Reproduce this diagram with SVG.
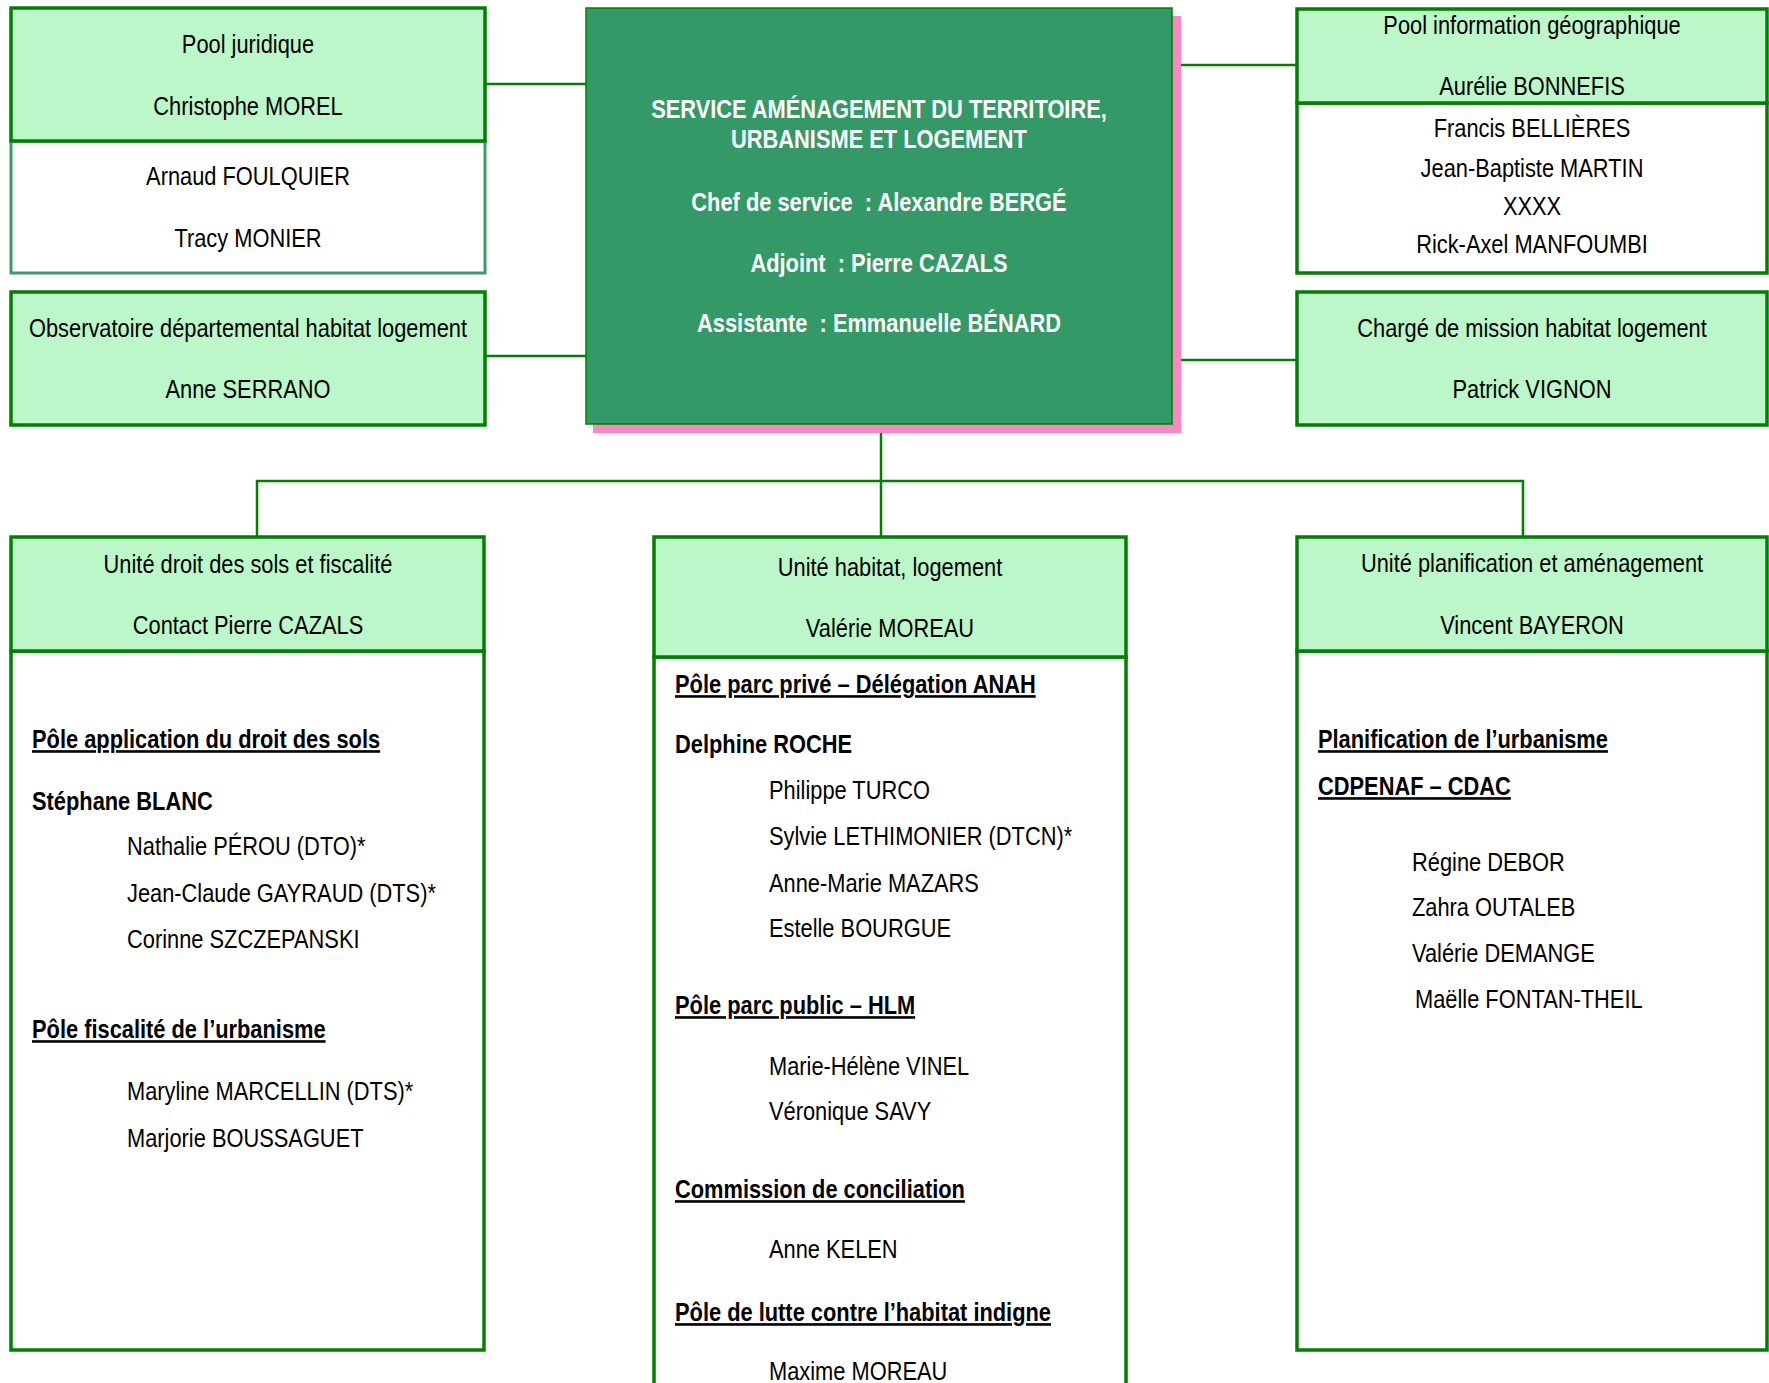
<svg xmlns="http://www.w3.org/2000/svg" width="1769" height="1383" viewBox="0 0 1769 1383">
<style>
text{font-family:"Liberation Sans","Arial",sans-serif;font-size:26px;fill:#000}
.c{text-anchor:middle}
.b{font-weight:bold}
.u{text-decoration:underline}
.w{fill:#fff;font-weight:bold}
.hd{fill:#bbf7c8;stroke:#008000;stroke-width:3.5}
.bd{fill:#fff;stroke:#008000;stroke-width:3.5}
.bd2{fill:#fff;stroke:#3a9b6b;stroke-width:3}
.ln{stroke:#008000;stroke-width:2.5;fill:none}
</style>
<rect width="1769" height="1383" fill="#fff"/>
<g id="connectors">
<line class="ln" x1="485" y1="84" x2="586" y2="84"/>
<line class="ln" x1="485" y1="356" x2="586" y2="356"/>
<line class="ln" x1="1172" y1="65" x2="1297" y2="65"/>
<line class="ln" x1="1172" y1="360" x2="1297" y2="360"/>
<line class="ln" x1="881" y1="424" x2="881" y2="537"/>
<polyline class="ln" points="257,537 257,481 1523,481 1523,537"/>
</g>
<g id="pool-juridique">
<rect class="bd2" x="11" y="141" width="474" height="132"/>
<rect class="hd" x="11" y="8" width="474" height="133"/>
<g transform="scale(0.84 1)">
<text class="c" x="295.24" y="53">Pool juridique</text>
<text class="c" x="295.24" y="115">Christophe MOREL</text>
<text class="c" x="295.24" y="185">Arnaud FOULQUIER</text>
<text class="c" x="295.24" y="247">Tracy MONIER</text>
</g>
</g>
<g id="observatoire">
<rect class="hd" x="11" y="292" width="474" height="133"/>
<g transform="scale(0.84 1)">
<text class="c" x="295.24" y="337">Observatoire départemental habitat logement</text>
<text class="c" x="295.24" y="398">Anne SERRANO</text>
</g>
</g>
<g id="service">
<rect x="593" y="16" width="588" height="417" fill="#f987c1"/>
<rect x="586" y="8" width="586" height="416" fill="#339966" stroke="#008000" stroke-width="1.5"/>
<g transform="scale(0.84 1)">
<text class="c w" x="1046.43" y="118">SERVICE AMÉNAGEMENT DU TERRITOIRE,</text>
<text class="c w" x="1046.43" y="148">URBANISME ET LOGEMENT</text>
<text class="c w" x="1046.43" y="211" xml:space="preserve">Chef de service  : Alexandre BERGÉ</text>
<text class="c w" x="1046.43" y="272" xml:space="preserve">Adjoint  : Pierre CAZALS</text>
<text class="c w" x="1046.43" y="332" xml:space="preserve">Assistante  : Emmanuelle BÉNARD</text>
</g>
</g>
<g id="pool-info-geo">
<rect class="bd" x="1297" y="103" width="470" height="170"/>
<rect class="hd" x="1297" y="9" width="470" height="94"/>
<g transform="scale(0.84 1)">
<text class="c" x="1823.81" y="34">Pool information géographique</text>
<text class="c" x="1823.81" y="95">Aurélie BONNEFIS</text>
<text class="c" x="1823.81" y="137">Francis BELLIÈRES</text>
<text class="c" x="1823.81" y="177">Jean-Baptiste MARTIN</text>
<text class="c" x="1823.81" y="215">XXXX</text>
<text class="c" x="1823.81" y="253">Rick-Axel MANFOUMBI</text>
</g>
</g>
<g id="charge-mission">
<rect class="hd" x="1297" y="292" width="470" height="133"/>
<g transform="scale(0.84 1)">
<text class="c" x="1823.81" y="337">Chargé de mission habitat logement</text>
<text class="c" x="1823.81" y="398">Patrick VIGNON</text>
</g>
</g>
<g id="unite-droit-sols">
<rect class="bd" x="11" y="651" width="473" height="699"/>
<rect class="hd" x="11" y="537" width="473" height="114"/>
<g transform="scale(0.84 1)">
<text class="c" x="295.24" y="573">Unité droit des sols et fiscalité</text>
<text class="c" x="295.24" y="634">Contact Pierre CAZALS</text>
<text class="b u" x="38.1" y="748">Pôle application du droit des sols</text>
<text class="b" x="38.1" y="810">Stéphane BLANC</text>
<text x="151.19" y="855">Nathalie PÉROU (DTO)*</text>
<text x="151.19" y="902">Jean-Claude GAYRAUD (DTS)*</text>
<text x="151.19" y="948">Corinne SZCZEPANSKI</text>
<text class="b u" x="38.1" y="1038">Pôle fiscalité de l’urbanisme</text>
<text x="151.19" y="1100">Maryline MARCELLIN (DTS)*</text>
<text x="151.19" y="1147">Marjorie BOUSSAGUET</text>
</g>
</g>
<g id="unite-habitat">
<rect class="bd" x="654" y="657" width="472" height="760"/>
<rect class="hd" x="654" y="537" width="472" height="120"/>
<g transform="scale(0.84 1)">
<text class="c" x="1059.52" y="576">Unité habitat, logement</text>
<text class="c" x="1059.52" y="637">Valérie MOREAU</text>
<text class="b u" x="803.57" y="693">Pôle parc privé – Délégation ANAH</text>
<text class="b" x="803.57" y="753">Delphine ROCHE</text>
<text x="915.48" y="799">Philippe TURCO</text>
<text x="915.48" y="845">Sylvie LETHIMONIER (DTCN)*</text>
<text x="915.48" y="892">Anne-Marie MAZARS</text>
<text x="915.48" y="937">Estelle BOURGUE</text>
<text class="b u" x="803.57" y="1014">Pôle parc public – HLM</text>
<text x="915.48" y="1075">Marie-Hélène VINEL</text>
<text x="915.48" y="1120">Véronique SAVY</text>
<text class="b u" x="803.57" y="1198">Commission de conciliation</text>
<text x="915.48" y="1258">Anne KELEN</text>
<text class="b u" x="803.57" y="1321">Pôle de lutte contre l’habitat indigne</text>
<text x="915.48" y="1380">Maxime MOREAU</text>
</g>
</g>
<g id="unite-planification">
<rect class="bd" x="1297" y="651" width="470" height="699"/>
<rect class="hd" x="1297" y="537" width="470" height="114"/>
<g transform="scale(0.84 1)">
<text class="c" x="1823.81" y="572">Unité planification et aménagement</text>
<text class="c" x="1823.81" y="634">Vincent BAYERON</text>
<text class="b u" x="1569.05" y="748">Planification de l’urbanisme</text>
<text class="b u" x="1569.05" y="795">CDPENAF – CDAC</text>
<text x="1680.95" y="871">Régine DEBOR</text>
<text x="1680.95" y="916">Zahra OUTALEB</text>
<text x="1680.95" y="962">Valérie DEMANGE</text>
<text x="1684.52" y="1008">Maëlle FONTAN-THEIL</text>
</g>
</g>
</svg>
